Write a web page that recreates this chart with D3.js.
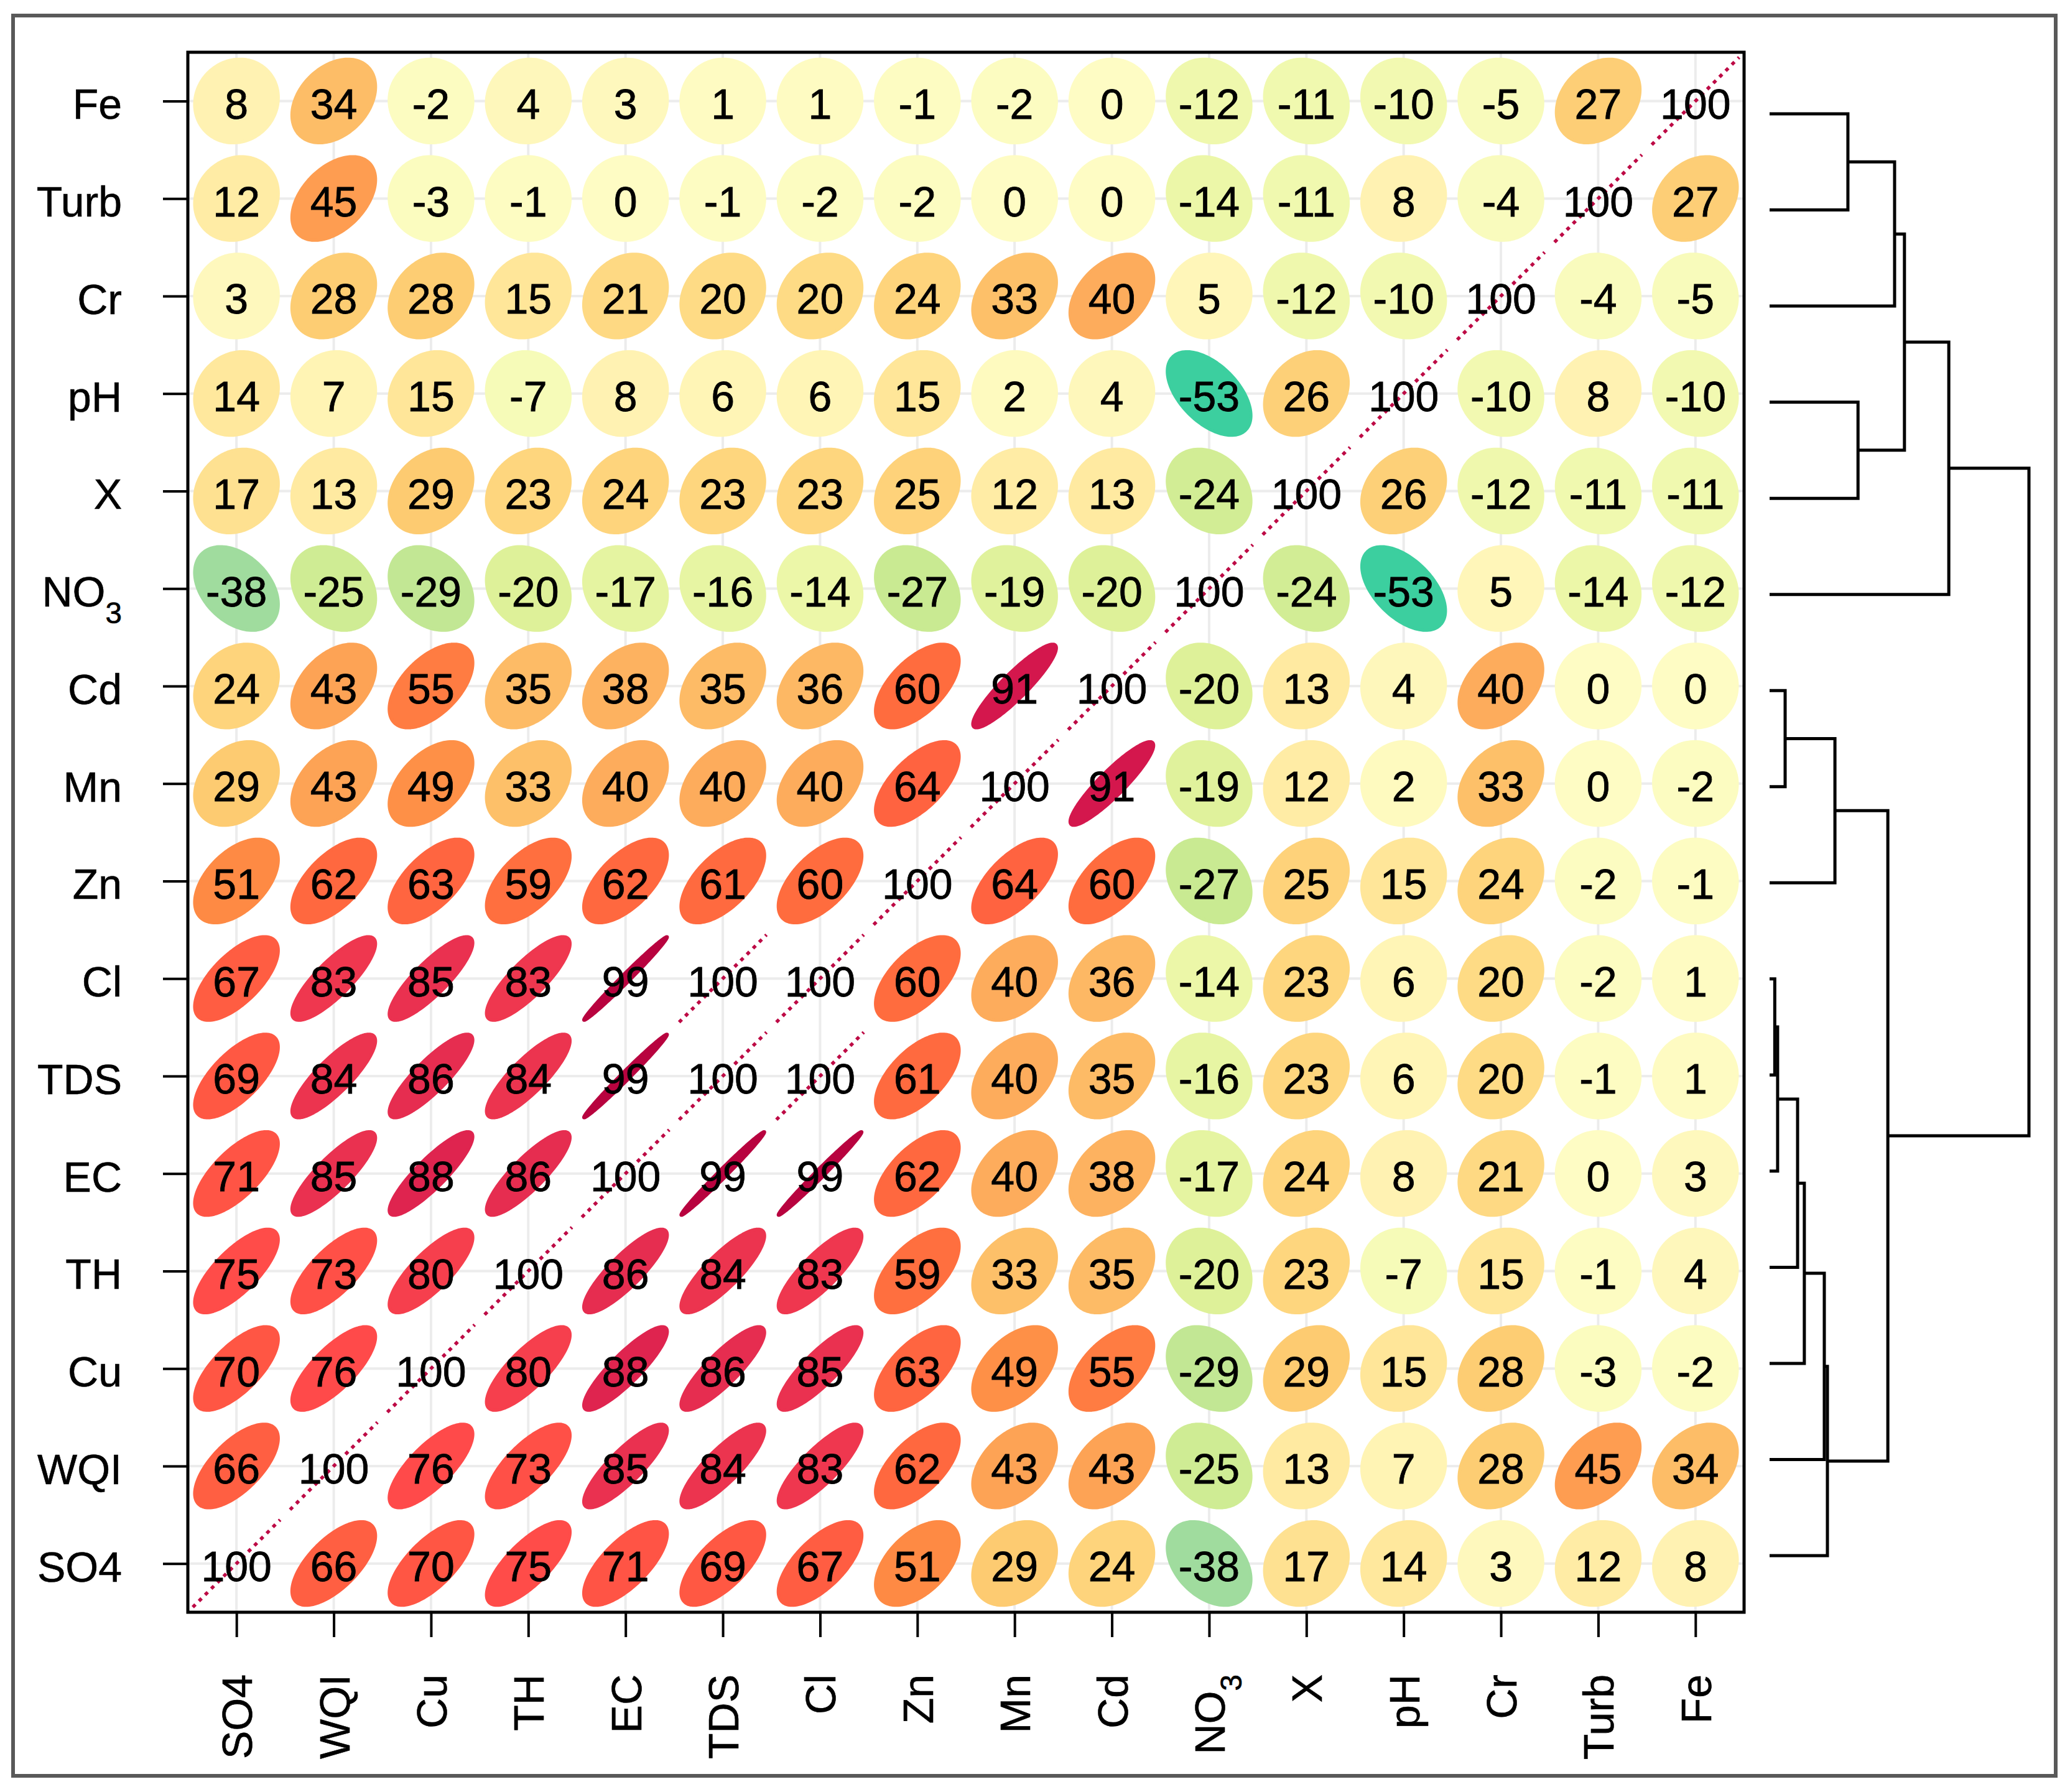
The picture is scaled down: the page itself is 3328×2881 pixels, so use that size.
<!DOCTYPE html>
<html>
<head>
<meta charset="utf-8">
<script src="https://cdn.jsdelivr.net/npm/d3@7"></script>
<style>
  html, body { margin: 0; padding: 0; background: #fff; }
  text { font-family: "Liberation Sans", Arial, sans-serif; }
</style>
</head>
<body>
<div id="vis"></div>
<script>
// variable order: rows top to bottom, columns left to right
const rowVars = ["Fe", "Turb", "Cr", "pH", "X", "NO3", "Cd", "Mn", "Zn", "Cl", "TDS", "EC", "TH", "Cu", "WQI", "SO4"];
const colVars = ["SO4", "WQI", "Cu", "TH", "EC", "TDS", "Cl", "Zn", "Mn", "Cd", "NO3", "X", "pH", "Cr", "Turb", "Fe"];

// correlation x 100, one array per row, values in colVars order
const corFe   = [8, 34, -2, 4, 3, 1, 1, -1, -2, 0, -12, -11, -10, -5, 27, 100];
const corTurb = [12, 45, -3, -1, 0, -1, -2, -2, 0, 0, -14, -11, 8, -4, 100, 27];
const corCr   = [3, 28, 28, 15, 21, 20, 20, 24, 33, 40, 5, -12, -10, 100, -4, -5];
const corPH   = [14, 7, 15, -7, 8, 6, 6, 15, 2, 4, -53, 26, 100, -10, 8, -10];
const corX    = [17, 13, 29, 23, 24, 23, 23, 25, 12, 13, -24, 100, 26, -12, -11, -11];
const corNO3  = [-38, -25, -29, -20, -17, -16, -14, -27, -19, -20, 100, -24, -53, 5, -14, -12];
const corCd   = [24, 43, 55, 35, 38, 35, 36, 60, 91, 100, -20, 13, 4, 40, 0, 0];
const corMn   = [29, 43, 49, 33, 40, 40, 40, 64, 100, 91, -19, 12, 2, 33, 0, -2];
const corZn   = [51, 62, 63, 59, 62, 61, 60, 100, 64, 60, -27, 25, 15, 24, -2, -1];
const corCl   = [67, 83, 85, 83, 99, 100, 100, 60, 40, 36, -14, 23, 6, 20, -2, 1];
const corTDS  = [69, 84, 86, 84, 99, 100, 100, 61, 40, 35, -16, 23, 6, 20, -1, 1];
const corEC   = [71, 85, 88, 86, 100, 99, 99, 62, 40, 38, -17, 24, 8, 21, 0, 3];
const corTH   = [75, 73, 80, 100, 86, 84, 83, 59, 33, 35, -20, 23, -7, 15, -1, 4];
const corCu   = [70, 76, 100, 80, 88, 86, 85, 63, 49, 55, -29, 29, 15, 28, -3, -2];
const corWQI  = [66, 100, 76, 73, 85, 84, 83, 62, 43, 43, -25, 13, 7, 28, 45, 34];
const corSO4  = [100, 66, 70, 75, 71, 69, 67, 51, 29, 24, -38, 17, 14, 3, 12, 8];
const corRows = [corFe, corTurb, corCr, corPH, corX, corNO3, corCd, corMn, corZn,
                 corCl, corTDS, corEC, corTH, corCu, corWQI, corSO4];

// dendrogram merges: [child, child, height]; a number refers to an earlier merge
const merges = [
  ["Cl", "TDS", 0.020],   // 0
  [0, "EC", 0.031],       // 1
  [1, "TH", 0.108],       // 2
  [2, "Cu", 0.134],       // 3
  [3, "WQI", 0.211],      // 4
  [4, "SO4", 0.223],      // 5
  ["Cd", "Mn", 0.060],    // 6
  [6, "Zn", 0.252],       // 7
  [7, 5, 0.456],          // 8
  ["Fe", "Turb", 0.302],  // 9
  [9, "Cr", 0.482],       // 10
  ["pH", "X", 0.341],     // 11
  [10, 11, 0.520],        // 12
  [12, "NO3", 0.691],     // 13
  [13, 8, 1.000]          // 14
];

// colour ramp (style)
const rampStops  = [-1, -0.53, -0.38, -0.27, -0.2, -0.14, -0.07, 0, 0.1, 0.2, 0.3, 0.4, 0.5, 0.6, 0.7, 0.76, 0.85, 0.91, 1];
const rampColors = ["#0a8f80", "#3ccf9f", "#a0dc9e", "#c9ea92", "#def199", "#ecf7a8", "#f6fbb8", "#fefcc4",
                    "#fff0ad", "#fedb85", "#fdc96f", "#fdac5c", "#fe8d45", "#ff6c3e", "#ff5644", "#ff4a4a",
                    "#ea3150", "#d4174d", "#b4003d"];
const color = d3.scaleLinear().domain(rampStops).range(rampColors);

const W = 3328, H = 2881;
const x0 = 302, x1 = 2804, y0 = 84, y1 = 2592;
const labelSize = 68, numSize = 68;

const svg = d3.select("#vis").append("svg")
  .attr("width", W).attr("height", H);

// outer frame
svg.append("rect")
  .attr("x", 21).attr("y", 25).attr("width", 3284).attr("height", 2830)
  .attr("fill", "#fff").attr("stroke", "#595959").attr("stroke-width", 6);

const x = d3.scalePoint().domain(colVars).range([x0, x1]).padding(0.5);
const y = d3.scalePoint().domain(rowVars).range([y0, y1]).padding(0.5);
const t = 0.43 * x.step();

// grid
const grid = svg.append("g").attr("stroke", "#ececec").attr("stroke-width", 4);
grid.selectAll(".gx").data(colVars).join("line")
  .attr("x1", d => x(d)).attr("x2", d => x(d)).attr("y1", y0).attr("y2", y1);
grid.selectAll(".gy").data(rowVars).join("line")
  .attr("y1", d => y(d)).attr("y2", d => y(d)).attr("x1", x0).attr("x2", x1);

// cells
const cells = [];
rowVars.forEach((rv, i) => colVars.forEach((cv, j) => cells.push({ row: rv, col: cv, v: corRows[i][j] })));

const angles = d3.range(0, 2 * Math.PI, 2 * Math.PI / 120);
const ellipsePath = d => {
  const r = d.v / 100, dd = Math.acos(r);
  const cx = x(d.col), cy = y(d.row);
  return d3.line().curve(d3.curveLinearClosed)(
    angles.map(a => [cx + t * Math.cos(a + dd / 2), cy - t * Math.cos(a - dd / 2)]));
};

svg.append("g").selectAll("path")
  .data(cells.filter(d => d.v < 100))
  .join("path")
  .attr("d", ellipsePath)
  .attr("fill", d => color(d.v / 100))
  .attr("stroke", d => color(d.v / 100))
  .attr("stroke-width", 5)
  .attr("stroke-linejoin", "round");

// perfect correlations collapse to a line
svg.append("g").selectAll("line")
  .data(cells.filter(d => d.v >= 100))
  .join("line")
  .attr("x1", d => x(d.col) - t - 3).attr("y1", d => y(d.row) + t + 3)
  .attr("x2", d => x(d.col) + t + 3).attr("y2", d => y(d.row) - t - 3)
  .attr("stroke", "#bd0a45").attr("stroke-width", 5.5)
  .attr("stroke-dasharray", "6,8");

// coefficients
svg.append("g").selectAll("text")
  .data(cells)
  .join("text")
  .attr("x", d => x(d.col)).attr("y", d => y(d.row))
  .attr("dy", "0.42em")
  .attr("text-anchor", "middle")
  .attr("font-size", numSize)
  .attr("fill", "#000")
  .attr("stroke", "#000").attr("stroke-width", 0.8)
  .text(d => d.v);

// plot box
svg.append("rect")
  .attr("x", x0).attr("y", y0).attr("width", x1 - x0).attr("height", y1 - y0)
  .attr("fill", "none").attr("stroke", "#000").attr("stroke-width", 5);

const subLabel = (sel) => {
  sel.each(function(d) {
    if (d !== "NO3") return;
    const tx = d3.select(this).text("NO");
    tx.append("tspan").attr("baseline-shift", "sub").attr("font-size", labelSize * 0.7).text("3");
  });
};

// y axis
const yAxis = svg.append("g")
  .attr("transform", `translate(${x0},0)`)
  .call(d3.axisLeft(y).tickSize(40).tickPadding(66));
yAxis.select(".domain").remove();
yAxis.selectAll(".tick line").attr("stroke", "#000").attr("stroke-width", 4);
yAxis.selectAll(".tick text")
  .attr("dy", "0.42em")
  .attr("font-size", labelSize).attr("fill", "#000")
  .attr("stroke", "#000").attr("stroke-width", 0.6)
  .attr("font-family", "'Liberation Sans', Arial, sans-serif")
  .call(subLabel);

// x axis, labels perpendicular
const xAxis = svg.append("g")
  .attr("transform", `translate(0,${y1})`)
  .call(d3.axisBottom(x).tickSize(40));
xAxis.select(".domain").remove();
xAxis.selectAll(".tick line").attr("stroke", "#000").attr("stroke-width", 4);
xAxis.selectAll(".tick text")
  .attr("y", 0).attr("x", -100).attr("dy", "0.36em")
  .attr("transform", "rotate(-90)")
  .attr("text-anchor", "end")
  .attr("font-size", labelSize).attr("fill", "#000")
  .attr("stroke", "#000").attr("stroke-width", 0.6)
  .attr("font-family", "'Liberation Sans', Arial, sans-serif")
  .call(subLabel);

// dendrogram
const leafY = d3.scalePoint().domain(rowVars).range([183, 2501]);
const hx = d3.scaleLinear().domain([0, 1]).range([2845, 3262]);
const nodes = [];
const pos = c => typeof c === "number" ? nodes[c] : { x: hx(0), y: leafY(c) };
const dendro = svg.append("g").attr("fill", "none").attr("stroke", "#000").attr("stroke-width", 5);
merges.forEach(([a, b, h]) => {
  const pa = pos(a), pb = pos(b), px = hx(h);
  nodes.push({ x: px, y: (pa.y + pb.y) / 2 });
  dendro.append("path").attr("d", `M${pa.x},${pa.y}H${px}V${pb.y}H${pb.x}`);
});
</script>
</body>
</html>
